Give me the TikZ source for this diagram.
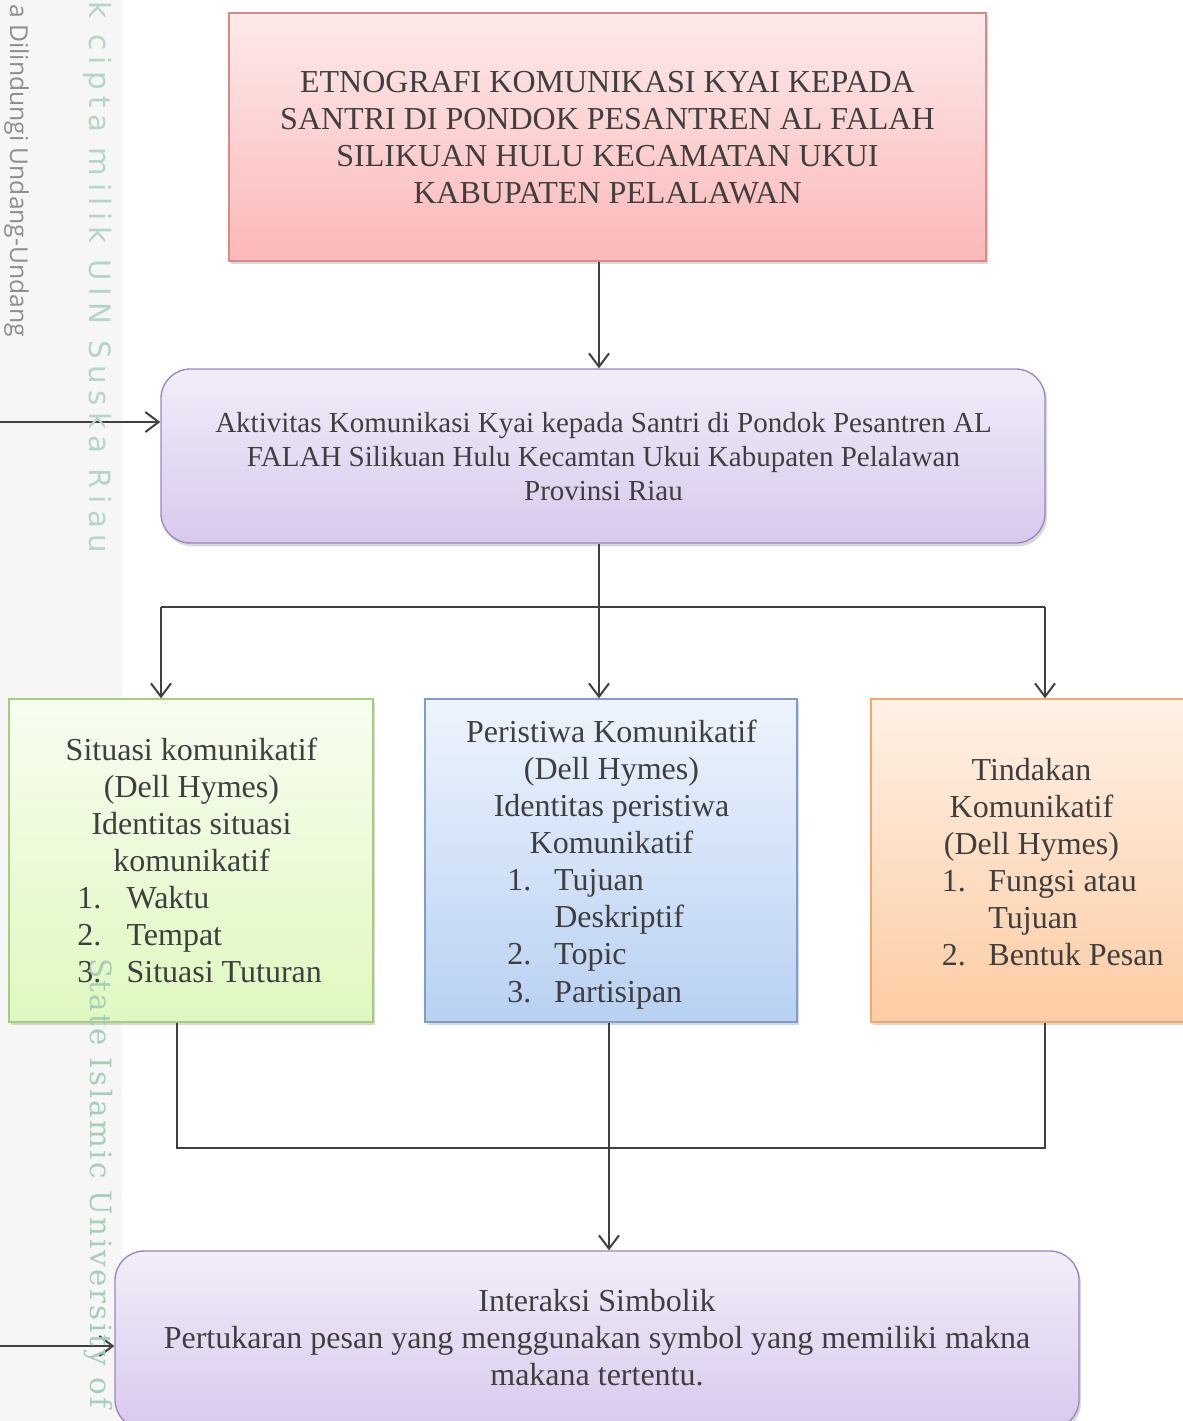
\documentclass[tikz,border=0pt]{standalone}
\usepackage{fontspec}
\setmainfont{Liberation Serif}
\newfontfamily\wmgrayfont{Open Sans}
\newfontfamily\wmgreenfont[LetterSpace=22]{DejaVu Sans}
\newfontfamily\wmseriffont[LetterSpace=8]{DejaVu Serif}
\usetikzlibrary{arrows.meta,shadows,calc}
\definecolor{txtc}{HTML}{3F3F3F}
\definecolor{linec}{HTML}{404040}
\definecolor{stripc}{HTML}{F6F6F6}
\definecolor{wmgray}{HTML}{8E8E8E}
\definecolor{wmgreen}{HTML}{B4D7C4}
\definecolor{wmgreenb}{HTML}{A5CFB8}
\definecolor{redb}{HTML}{D88A8A}
\definecolor{redt}{HTML}{FDEAEA}
\definecolor{redbot}{HTML}{FBB8B8}
\definecolor{purb}{HTML}{9C86C2}
\definecolor{purt}{HTML}{F2EDF9}
\definecolor{purbot}{HTML}{D8C9EC}
\definecolor{greb}{HTML}{A6CD7A}
\definecolor{gret}{HTML}{F8FDF1}
\definecolor{grebot}{HTML}{DFF8BF}
\definecolor{blub}{HTML}{7C9DCD}
\definecolor{blut}{HTML}{EEF4FD}
\definecolor{blubot}{HTML}{B8D1F2}
\definecolor{orab}{HTML}{F1A86A}
\definecolor{orat}{HTML}{FEF1E6}
\definecolor{orabot}{HTML}{FDCCA3}
\begin{document}
\begin{tikzpicture}[x=0.75pt,y=-0.75pt,
  arr/.style={draw=linec, line width=1.5pt, -{Straight Barb[length=10pt,width=15pt,line width=1.5pt]}},
  ln/.style={draw=linec, line width=1.5pt},
  box/.style={draw, line width=1pt, inner sep=0pt, drop shadow={shadow xshift=1.5pt,shadow yshift=-2.5pt,opacity=0.3}},
  txt/.style={text=txtc, inner sep=0pt, font=\fontsize{24}{27.85}\selectfont},
  txts/.style={text=txtc, inner sep=0pt, font=\fontsize{21.75}{25.5}\selectfont},
  wm/.style={inner sep=0pt, rotate=-90, anchor=base west},
]
\useasboundingbox (0,0) rectangle (1182,1421);
\fill[stripc] (0,0) rectangle (122,1421);

% boxes
\node[box, draw=redb, top color=redt, bottom color=redbot, minimum width=567.75pt, minimum height=186pt] (top) at (607.5,137) {};
\node[box, draw=purb, top color=purt, bottom color=purbot, rounded corners=22pt, minimum width=663pt, minimum height=130.5pt] (act) at (603,456) {};
\node[box, draw=greb, top color=gret, bottom color=grebot, minimum width=273pt, minimum height=242.25pt] (green) at (191,860.5) {};
\node[box, draw=blub, top color=blut, bottom color=blubot, minimum width=279pt, minimum height=242.25pt] (blue) at (611,860.5) {};
\node[box, draw=orab, top color=orat, bottom color=orabot, minimum width=240.75pt, minimum height=242.25pt] (orange) at (1031.5,860.5) {};
\node[box, draw=purb, top color=purt, bottom color=purbot, rounded corners=22pt, minimum width=723pt, minimum height=133.5pt] (final) at (597,1340) {};

% texts
\node[txt, anchor=base] (ttop) at (607.5,92) {\begin{tabular}[t]{@{}c@{}}ETNOGRAFI KOMUNIKASI KYAI KEPADA\\SANTRI DI PONDOK PESANTREN AL FALAH\\SILIKUAN HULU KECAMATAN UKUI\\KABUPATEN PELALAWAN\end{tabular}};
\node[txts, anchor=base] (tact) at (603.5,432) {\begin{tabular}[t]{@{}c@{}}Aktivitas Komunikasi Kyai kepada Santri di Pondok Pesantren AL\\FALAH Silikuan Hulu Kecamtan Ukui Kabupaten Pelalawan\\Provinsi Riau\end{tabular}};

\node[txt, anchor=base] (tgreen) at (191.5,760) {\begin{tabular}[t]{@{}c@{}}Situasi komunikatif\\(Dell Hymes)\\Identitas situasi\\komunikatif\end{tabular}};
\node[txt, anchor=base west] (lgreen) at (77,908.7) {\begin{tabular}[t]{@{}l@{}}\makebox[37pt][l]{1.}Waktu\\\makebox[37pt][l]{2.}Tempat\\\makebox[37pt][l]{3.}Situasi Tuturan\end{tabular}};

\node[txt, anchor=base] (tblue) at (611.5,742) {\begin{tabular}[t]{@{}c@{}}Peristiwa Komunikatif\\(Dell Hymes)\\Identitas peristiwa\\Komunikatif\end{tabular}};
\node[txt, anchor=base west] (lblue) at (507,890.6) {\begin{tabular}[t]{@{}l@{}}\makebox[35.25pt][l]{1.}Tujuan\\\makebox[35.25pt][l]{}Deskriptif\\\makebox[35.25pt][l]{2.}Topic\\\makebox[35.25pt][l]{3.}Partisipan\end{tabular}};

\node[txt, anchor=base] (torange) at (1031.5,780) {\begin{tabular}[t]{@{}c@{}}Tindakan\\Komunikatif\\(Dell Hymes)\end{tabular}};
\node[txt, anchor=base west] (lorange) at (941.5,891) {\begin{tabular}[t]{@{}l@{}}\makebox[35pt][l]{1.}Fungsi atau\\\makebox[35pt][l]{}Tujuan\\\makebox[35pt][l]{2.}Bentuk Pesan\end{tabular}};

\node[txt, anchor=base] (tfinal) at (597,1311) {\begin{tabular}[t]{@{}c@{}}Interaksi Simbolik\\Pertukaran pesan yang menggunakan symbol yang memiliki makna\\makana tertentu.\end{tabular}};

% connectors
\coordinate (xa) at (599,0);
\coordinate (xl) at (161,607);
\coordinate (xr) at (1045,607);
\coordinate (xb) at (609,0);
\coordinate (bl) at (177,1148);
\coordinate (br) at (1045,1148);
\coordinate (ina) at (0,422);
\coordinate (inb) at (0,1346);

\draw[arr] (top.south -| xa) -- (act.north -| xa);
\draw[arr] (ina) -- (ina -| act.west);
\draw[arr] (act.south -| xa) -- (blue.north -| xa);
\draw[ln] (xl) -- (xr);
\draw[arr] (xl) -- (green.north -| xl);
\draw[arr] (xr) -- (orange.north -| xr);
\draw[ln] (green.south -| bl) -- (bl) -- (br) -- (orange.south -| br);
\draw[arr] (blue.south -| xb) -- (final.north -| xb);
\draw[arr] (inb) -- (inb -| final.west);

% side watermark
\node[wm, text=wmgray, font=\wmgrayfont\fontsize{18.5}{22}\selectfont] (wm1) at (10,4) {a Dilindungi Undang-Undang};
\node[wm, text=wmgreen, font=\wmgreenfont\fontsize{22}{26}\selectfont] (wm2) at (89,1) {k cipta milik UIN Suska Riau};
\node[wm, text=wmgreenb, font=\wmseriffont\fontsize{22}{26}\selectfont] (wm3) at (90,958) {State Islamic University of};
\end{tikzpicture}
\end{document}
